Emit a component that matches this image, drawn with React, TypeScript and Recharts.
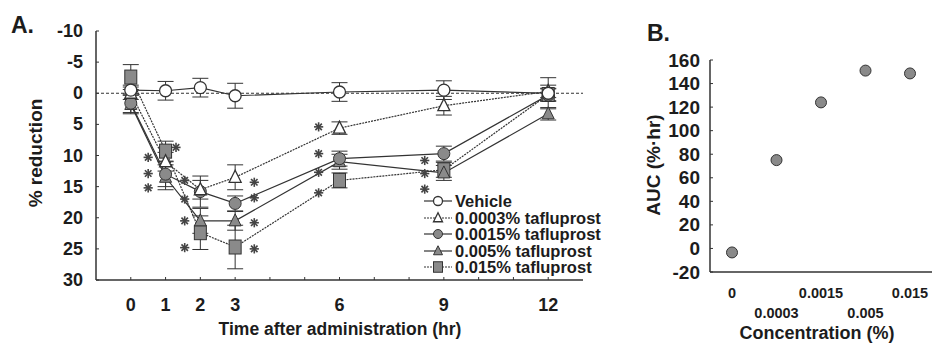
import React from 'react';
import { ComposedChart, Line, XAxis, YAxis, ErrorBar, Scatter, ReferenceLine, Legend } from 'recharts';

// ---- Panel A: time course of IOP reduction (%) ----
const hours = [0, 1, 2, 3, 6, 9, 12];

const vehicle = [-0.5, -0.4, -0.9, 0.4, -0.2, -0.5, 0];
const vehicleErr = [0.8, 1.5, 1.5, 2, 1.5, 1.5, 2.5];

const taf0003 = [0, 11, 15.5, 13.5, 5.6, 2, -0.3];
const taf0003Err = [1, 1.5, 1.5, 2, 1, 1.5, 1];

const taf0015 = [1.6, 13, 15.8, 17.7, 10.5, 9.7, 0.3];
const taf0015Err = [1.5, 2, 2.5, 1.2, 1.2, 1.2, 1];

const taf005 = [1.8, 13.5, 20.5, 20.5, 11, 12.8, 3.3];
const taf005Err = [1.5, 2, 2, 1.5, 1.2, 1.2, 1];

const taf015 = [-2.6, 9.3, 22.4, 24.7, 14, 12.3, 0.2];
const taf015Err = [2, 1.6, 2.7, 3.5, 1.2, 1.2, 1];

// significance markers (hour, % reduction)
const starHours = [1.3, 0.5, 0.5, 0.5, 1.55, 1.55, 1.55, 1.55, 3.55, 3.55, 3.55, 3.55, 5.4, 5.4, 5.4, 5.4, 8.45, 8.45, 8.45];
const starValues = [8.7, 10.3, 12.9, 15.2, 14, 17, 20.5, 24.8, 14.3, 16.8, 20.8, 25, 5.4, 9.7, 12.7, 16, 10.8, 12.9, 15.4];

const hourTicks = [-1, 0, 1, 2, 3, 4, 5, 6, 7, 8, 9, 10, 11, 12, 13];
const hourLabels = [0, 1, 2, 3, 6, 9, 12];
const reductionTicks = [-10, -5, 0, 5, 10, 15, 20, 25, 30];

// ---- Panel B: AUC by concentration ----
const concentrations = ['0', '0.0003', '0.0015', '0.005', '0.015'];
const aucValues = [-3.4, 75, 124, 151, 148.6];
const aucTicks = [-20, 0, 20, 40, 60, 80, 100, 120, 140, 160];

const FONT = '"Liberation Sans", Arial, sans-serif';
const INK = '#1c1c1c';
const LINE = '#333';
const FILL = '#8a8a8a';

const timeCourse = hours.map((t, i) => ({
  t,
  vehicle: vehicle[i],
  vehicleErr: vehicleErr[i],
  taf0003: taf0003[i],
  taf0003Err: taf0003Err[i],
  taf0015: taf0015[i],
  taf0015Err: taf0015Err[i],
  taf005: taf005[i],
  taf005Err: taf005Err[i],
  taf015: taf015[i],
  taf015Err: taf015Err[i],
}));

const stars = starHours.map((t, i) => ({ t, star: starValues[i] }));

const aucTable = concentrations.map((conc, i) => ({ conc, auc: aucValues[i] }));

type Mark = 'openCircle' | 'openTriangle' | 'filledCircle' | 'filledTriangle' | 'filledSquare';

function Symbol({ cx, cy, mark, scale = 1 }: { cx: number; cy: number; mark: Mark; scale?: number }) {
  if (cx == null || cy == null) return null;
  const s = scale;
  switch (mark) {
    case 'openCircle':
      return <circle cx={cx} cy={cy} r={6 * s} fill="#fff" stroke={LINE} strokeWidth={1.3} />;
    case 'filledCircle':
      return <circle cx={cx} cy={cy} r={6 * s} fill={FILL} stroke={LINE} strokeWidth={1} />;
    case 'openTriangle':
      return (
        <polygon
          points={`${cx},${cy - 7 * s} ${cx - 6 * s},${cy + 5 * s} ${cx + 6 * s},${cy + 5 * s}`}
          fill="#fff"
          stroke={LINE}
          strokeWidth={1.3}
        />
      );
    case 'filledTriangle':
      return (
        <polygon
          points={`${cx},${cy - 7 * s} ${cx - 6 * s},${cy + 5 * s} ${cx + 6 * s},${cy + 5 * s}`}
          fill={FILL}
          stroke={LINE}
          strokeWidth={1}
        />
      );
    case 'filledSquare':
      return (
        <rect x={cx - 6 * s} y={cy - 7 * s} width={12 * s} height={14 * s} fill={FILL} stroke={LINE} strokeWidth={1} />
      );
    default:
      return null;
  }
}

const series: { key: string; name: string; mark: Mark; dash?: string }[] = [
  { key: 'vehicle', name: 'Vehicle', mark: 'openCircle' },
  { key: 'taf0003', name: '0.0003% tafluprost', mark: 'openTriangle', dash: '2 1' },
  { key: 'taf0015', name: '0.0015% tafluprost', mark: 'filledCircle' },
  { key: 'taf005', name: '0.005% tafluprost', mark: 'filledTriangle' },
  { key: 'taf015', name: '0.015% tafluprost', mark: 'filledSquare', dash: '2 1' },
];

// drawing order: filled groups underneath, vehicle on top
const drawOrder = ['taf015', 'taf005', 'taf0015', 'taf0003', 'vehicle'];

function StarMark(props: any) {
  const { cx, cy } = props;
  if (cx == null || cy == null) return null;
  const r = 4.6;
  const spokes = [0, 45, 90, 135].map((a) => {
    const rad = (a * Math.PI) / 180;
    const dx = Math.cos(rad) * r;
    const dy = Math.sin(rad) * r;
    return <line key={a} x1={cx - dx} y1={cy - dy} x2={cx + dx} y2={cy + dy} stroke="#444" strokeWidth={1.6} />;
  });
  return <g>{spokes}</g>;
}

function HourTick(props: any) {
  const { x, y, payload } = props;
  const v = payload.value;
  const labelled = hourLabels.includes(v);
  return (
    <g>
      {v > -1 && v < 13 && <line x1={x} y1={y} x2={x} y2={y - 3} stroke={LINE} strokeWidth={1} />}
      {labelled && (
        <text x={x} y={y + 31} textAnchor="middle" fontFamily={FONT} fontWeight="bold" fontSize={18} fill={INK}>
          {v}
        </text>
      )}
    </g>
  );
}

function ReductionTick(props: any) {
  const { x, y, payload } = props;
  return (
    <g>
      <line x1={x} y1={y} x2={x + 3} y2={y} stroke={LINE} strokeWidth={1} />
      <text x={x - 13} y={y + 6} textAnchor="end" fontFamily={FONT} fontWeight="bold" fontSize={18} fill={INK}>
        {payload.value}
      </text>
    </g>
  );
}

function AucTick(props: any) {
  const { x, y, payload } = props;
  return (
    <g>
      <line x1={x} y1={y} x2={x + 3} y2={y} stroke={LINE} strokeWidth={1} />
      <text x={x - 10} y={y + 6.5} textAnchor="end" fontFamily={FONT} fontWeight="bold" fontSize={19} fill={INK}>
        {payload.value}
      </text>
    </g>
  );
}

function ConcTick(props: any) {
  const { x, y, payload, index } = props;
  const row = index % 2 === 0 ? 26 : 46;
  return (
    <text x={x} y={y + row} textAnchor="middle" fontFamily={FONT} fontWeight="bold" fontSize={14.5} fill={INK}>
      {payload.value}
    </text>
  );
}

function LegendBox() {
  return (
    <div style={{ fontFamily: FONT, fontWeight: 'bold', fontSize: 16.5, color: INK, lineHeight: '16.5px' }}>
      {series.map((s) => (
        <div key={s.key} style={{ display: 'flex', alignItems: 'center', height: 16.5 }}>
          <svg width={32} height={16} style={{ display: 'block' }}>
            <line x1={1} y1={8} x2={29} y2={8} stroke={LINE} strokeWidth={1.2} strokeDasharray={s.dash} />
            <Symbol cx={15} cy={8} mark={s.mark} scale={0.75} />
          </svg>
          <span style={{ whiteSpace: 'nowrap' }}>{s.name}</span>
        </div>
      ))}
    </div>
  );
}

const textStyle: React.CSSProperties = {
  position: 'absolute',
  fontFamily: FONT,
  fontWeight: 'bold',
  color: INK,
  whiteSpace: 'nowrap',
  lineHeight: 1,
};

export default function App() {
  return (
    <div style={{ position: 'absolute', left: 0, top: 0, width: 932, height: 347, background: '#fff', overflow: 'hidden' }}>
      {/* Panel A */}
      <div style={{ position: 'absolute', left: 0, top: 0 }}>
        <ComposedChart width={600} height={347} data={timeCourse} margin={{ top: 31, right: 17, bottom: 37, left: 0 }}>
          <XAxis
            dataKey="t"
            type="number"
            domain={[-1, 13]}
            ticks={hourTicks}
            interval={0}
            tickSize={0}
            tickMargin={0}
            tickLine={false}
            tick={<HourTick />}
            axisLine={{ stroke: LINE, strokeWidth: 1.5 }}
            height={30}
            allowDataOverflow
          />
          <YAxis
            type="number"
            domain={[-10, 30]}
            reversed
            ticks={reductionTicks}
            interval={0}
            tickSize={0}
            tickMargin={0}
            tickLine={false}
            tick={<ReductionTick />}
            axisLine={{ stroke: LINE, strokeWidth: 1.5 }}
            width={96}
            allowDataOverflow
          />
          <ReferenceLine y={0} stroke={LINE} strokeWidth={1.2} strokeDasharray="3 2" />
          {drawOrder.map((key) => {
            const s = series.find((d) => d.key === key)!;
            return (
              <Line
                key={key}
                dataKey={key}
                name={s.name}
                type="linear"
                stroke={LINE}
                strokeWidth={1.2}
                strokeDasharray={s.dash}
                isAnimationActive={false}
                dot={(p: any) => <Symbol key={`${key}-${p.index}`} cx={p.cx} cy={p.cy} mark={s.mark} />}
                activeDot={false}
              >
                <ErrorBar dataKey={`${key}Err`} width={8} stroke={LINE} strokeWidth={1} direction="y" />
              </Line>
            );
          })}
          <Scatter data={stars} dataKey="star" shape={<StarMark />} isAnimationActive={false} legendType="none" />
          <Legend
            layout="vertical"
            align="center"
            verticalAlign="middle"
            content={() => <LegendBox />}
            wrapperStyle={{ left: 423, top: 193, width: 180 }}
          />
        </ComposedChart>
      </div>
      <div style={{ ...textStyle, left: 11, top: 14, fontSize: 23 }}>A.</div>
      <div style={{ ...textStyle, left: 340, top: 330, fontSize: 17.5, transform: 'translate(-50%, -50%)' }}>
        Time after administration (hr)
      </div>
      <div
        style={{ ...textStyle, left: 35, top: 153, fontSize: 19, transform: 'translate(-50%, -50%) rotate(-90deg)' }}
      >
        % reduction
      </div>

      {/* Panel B */}
      <div style={{ position: 'absolute', left: 620, top: 0 }}>
        <ComposedChart width={312} height={347} data={aucTable} margin={{ top: 60, right: 0, bottom: 45, left: 0 }}>
          <XAxis
            dataKey="conc"
            type="category"
            interval={0}
            padding={{ left: 22, right: 22 }}
            tickSize={0}
            tickMargin={0}
            tickLine={false}
            tick={<ConcTick />}
            axisLine={{ stroke: LINE, strokeWidth: 1.5 }}
            height={30}
          />
          <YAxis
            type="number"
            domain={[-20, 160]}
            ticks={aucTicks}
            interval={0}
            tickSize={0}
            tickMargin={0}
            tickLine={false}
            tick={<AucTick />}
            axisLine={{ stroke: LINE, strokeWidth: 1.5 }}
            width={90}
            allowDataOverflow
          />
          <Scatter
            dataKey="auc"
            isAnimationActive={false}
            shape={(p: any) => <circle cx={p.cx} cy={p.cy} r={5.5} fill={FILL} stroke={LINE} strokeWidth={1} />}
          />
        </ComposedChart>
      </div>
      <div style={{ ...textStyle, left: 647, top: 22, fontSize: 23 }}>B.</div>
      <div style={{ ...textStyle, left: 817, top: 333, fontSize: 18, transform: 'translate(-50%, -50%)' }}>
        Concentration (%)
      </div>
      <div
        style={{ ...textStyle, left: 653, top: 165, fontSize: 19, transform: 'translate(-50%, -50%) rotate(-90deg)' }}
      >
        AUC (%·hr)
      </div>
    </div>
  );
}
